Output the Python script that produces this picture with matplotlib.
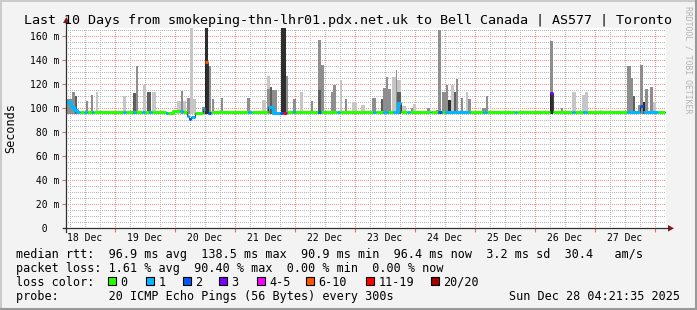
import matplotlib
matplotlib.use("Agg")
import matplotlib.pyplot as plt
from matplotlib.lines import Line2D
from matplotlib.patches import Rectangle, Polygon

W, H = 697, 310
MONO = "DejaVu Sans Mono"

# graph covers 240 h, starting Thu Dec 18 04:21:35
start_hour = 4 + 21 / 60 + 35 / 3600
graph_hours = 240
day_labels = ["18 Dec", "19 Dec", "20 Dec", "21 Dec", "22 Dec",
              "23 Dec", "24 Dec", "25 Dec", "26 Dec", "27 Dec"]
y_ticks = [0, 20, 40, 60, 80, 100, 120, 140, 160]

# median rtt (ms), piecewise: segment start (hours since graph start), value, loss bucket
median_start_h = [
    0.0, 2.0, 3.2, 4.4, 5.6, 7.2, 8.4, 10.4, 11.2,
    22.8, 24.0, 26.8, 28.0, 30.4, 31.6, 33.2, 34.4, 40.0, 40.8, 42.8,
    45.6, 46.8, 48.4, 49.2, 50.0, 51.6, 54.8, 55.6, 56.8, 58.0, 70.4,
    72.8, 74.4, 80.8, 82.8, 85.6, 86.8, 88.0, 88.4, 90.8, 91.6,
    100.8, 102.0, 108.4, 109.6, 122.8, 124.0, 126.8, 128.8, 130.8, 132.8, 134.0, 136.4, 137.6,
    145.6, 146.0, 148.8, 150.4, 151.6, 161.6, 166.8, 168.4, 179.6, 180.4,
    193.6, 194.8, 202.4, 203.6, 206.8, 208.4, 224.4, 229.6, 230.8, 236.8,
]
median_ms = [
    105.5, 101.0, 98.5, 96.9, 96.9, 96.9, 96.9, 96.9, 96.9,
    96.9, 96.9, 96.9, 96.9, 96.9, 96.9, 96.9, 96.9, 96.2, 96.2, 97.8,
    97.8, 97.3, 93.5, 90.9, 93.0, 96.2, 99.5, 138.5, 96.2, 96.9, 97.3,
    96.9, 96.9, 101.5, 96.5, 96.5, 96.5, 96.5, 96.9, 98.2, 96.9,
    96.9, 96.9, 96.9, 96.9, 96.9, 96.9, 96.9, 96.9, 96.9, 104.5, 96.9, 96.9, 96.9,
    96.9, 96.9, 96.9, 96.9, 96.9, 96.9, 96.9, 96.9, 96.9, 96.9,
    113.0, 96.9, 96.9, 96.9, 96.9, 96.9, 96.9, 102.0, 96.9, 96.9,
]
median_loss = [
    1, 1, 1, 1, 0, 1, 0, 1, 0,
    1, 0, 1, 0, 1, 0, 1, 0, 1, 0, 0,
    1, 0, 1, 2, 1, 0, 1, 5, 2, 0, 0,
    1, 0, 1, 1, 2, 6, 3, 0, 1, 0,
    2, 0, 1, 0, 1, 0, 1, 0, 1, 1, 0, 1, 0,
    1, 0, 2, 0, 1, 0, 1, 0, 1, 0,
    3, 0, 1, 0, 1, 0, 1, 2, 1, 0,
]

# smoke columns: (start h, end h, top ms), grouped by smoke density
smoke_light = [
    (12.0, 12.8, 114), (22.8, 24.0, 110.5), (30.8, 32.0, 119.7), (34.4, 36.0, 114),
    (44.4, 46.0, 106), (46.8, 48.0, 106), (49.6, 50.8, 167), (50.8, 52.0, 108),
    (78.4, 80.0, 107), (80.4, 81.6, 127), (93.6, 94.8, 114), (109.6, 110.4, 123.8),
    (114.4, 116.4, 105), (118.0, 119.6, 103), (130.4, 132.0, 126.4), (132.4, 134.0, 124),
    (134.4, 136.0, 102), (138.8, 140.0, 103.5), (154.0, 155.2, 119.7), (160.0, 160.8, 114),
    (202.4, 204.0, 114), (206.4, 207.6, 111), (207.6, 208.8, 114), (213.6, 214.4, 99),
    (234.8, 236.0, 105),
]
smoke_mid = [
    (0.4, 2.4, 108), (2.4, 3.6, 113.6), (8.0, 8.8, 106), (10.0, 10.8, 111),
    (28.0, 28.8, 135.5), (46.0, 46.8, 114.5), (48.4, 49.6, 108.5), (54.4, 55.6, 101),
    (56.8, 58.0, 135.5), (58.4, 59.2, 108), (62.0, 62.8, 108.6), (72.4, 73.6, 109),
    (80.4, 81.6, 116), (82.4, 84.4, 115), (88.0, 88.8, 127), (90.8, 92.0, 108),
    (98.0, 98.8, 106), (100.8, 102.0, 157), (102.0, 103.2, 136), (106.0, 106.8, 114),
    (106.8, 108.0, 119.7), (111.6, 112.4, 108), (122.4, 124.0, 108.6), (126.8, 128.0, 117),
    (128.0, 128.8, 126), (128.8, 130.0, 116.5), (132.0, 132.4, 132), (138.0, 138.8, 100),
    (144.4, 145.6, 100), (148.0, 148.8, 98.5), (148.8, 150.0, 165), (150.4, 152.0, 114),
    (152.0, 152.8, 119.7), (156.0, 156.8, 124.4), (158.0, 158.8, 109), (160.8, 162.0, 108),
    (166.4, 168.0, 100), (168.0, 168.8, 110.5), (193.6, 194.8, 156), (198.0, 198.8, 100),
    (224.4, 226.0, 135.5), (226.0, 226.8, 125), (228.8, 229.6, 103), (229.6, 230.8, 136),
    (231.6, 232.8, 116.5), (233.6, 234.8, 117.7),
]
smoke_dark = [
    (3.6, 4.4, 110.5), (26.8, 28.0, 112.5), (32.4, 34.0, 114), (81.6, 82.4, 118),
    (100.8, 102.0, 115), (126.0, 126.8, 108), (132.4, 134.0, 114), (155.2, 156.0, 114),
    (226.8, 227.6, 110.5),
]
smoke_black = [
    (55.6, 56.8, 167), (86.0, 88.0, 167), (152.8, 154.0, 107), (193.6, 194.8, 113),
    (230.8, 231.6, 105),
]

loss_labels = ["0", "1", "2", "3", "4-5", "6-10", "11-19", "20/20"]
loss_colors = ["#26ff00", "#00b8ff", "#0059ff", "#7e00ff", "#ff00ff", "#ff5500", "#ff0000", "#a10000"]

title = "Last 10 Days from smokeping-thn-lhr01.pdx.net.uk to Bell Canada | AS577 | Toronto"
rtt_line = "median rtt:  96.9 ms avg  138.5 ms max  90.9 ms min  96.4 ms now  3.2 ms sd  30.4   am/s"
loss_line = "packet loss: 1.61 % avg  90.40 % max  0.00 % min  0.00 % now"
probe_line = "probe:       20 ICMP Echo Pings (56 Bytes) every 300s"
stamp = "Sun Dec 28 04:21:35 2025"


def fx(x):
    return x / W


def fy(y):
    return 1 - y / H


fig = plt.figure(figsize=(W / 100, H / 100), dpi=100)
fig.patch.set_facecolor("#f3f3f3")

ax = fig.add_axes([fx(66), fy(228.3), 600 / W, 200.3 / H])
ax.set_facecolor("white")
ax.set_xlim(0, graph_hours)
ax.set_ylim(0, 167)
for s in ax.spines.values():
    s.set_visible(False)
ax.set_xticks([])
ax.set_yticks([])

# grid, 1px dots like rrdtool
dots = (0, (1, 2))
minor_col, major_col = "#b8b8b8", "#ff8c8c"
first_midnight = 24 - start_hour
for v in range(5, 167, 5):
    if v % 20:
        ax.axhline(v, color=minor_col, lw=0.72, ls=dots, antialiased=False, zorder=0)
for v in y_ticks[1:]:
    ax.axhline(v, color=major_col, lw=0.72, ls=dots, antialiased=False, zorder=0)
h = first_midnight - 18
while h < graph_hours:
    if h > 0:
        is_mid = abs((h - first_midnight) % 24) < 1e-6
        ax.axvline(h, color=major_col if is_mid else minor_col, lw=0.72, ls=dots,
                   antialiased=False, zorder=0)
    h += 6

# smoke
for group, shade in [(smoke_light, "#c6c6c6"), (smoke_mid, "#8e8e8e"),
                     (smoke_dark, "#5e5e5e"), (smoke_black, "#2e2e2e")]:
    ax.bar([g[0] for g in group], [g[2] - 95.5 for g in group],
           width=[g[1] - g[0] for g in group], bottom=95.5, align="edge",
           color=shade, linewidth=0, zorder=2)

# median line
median_end_h = median_start_h[1:] + [graph_hours - 0.4]
xs, ys = [], []
for a, b, v in zip(median_start_h, median_end_h, median_ms):
    xs += [a, b]
    ys += [v, v]
ax.plot(xs, ys, color="#202020", lw=0.6, zorder=3)
i = 0
while i < len(median_start_h):
    j = i
    while j + 1 < len(median_start_h) and median_loss[j + 1] == median_loss[i]:
        j += 1
    rx, ry = [], []
    for k in range(i, j + 1):
        rx += [median_start_h[k], median_end_h[k]]
        ry += [median_ms[k], median_ms[k]]
    ax.plot(rx, ry, color=loss_colors[median_loss[i]], lw=2.2,
            solid_capstyle="butt", zorder=4)
    i = j + 1

# ticks and labels
for k, lab in enumerate(day_labels):
    ax.text(12 - start_hour + 24 * k, -0.062, lab, transform=ax.get_xaxis_transform(),
            ha="center", va="baseline", fontsize=7, family=MONO)
mids = [first_midnight + 24 * k for k in range(10)]
ax.vlines(mids, -0.016, 0, transform=ax.get_xaxis_transform(), color="#e07070",
          lw=0.8, clip_on=False)
ax.hlines(y_ticks, -0.006, 0, transform=ax.get_yaxis_transform(), color="#e07070",
          lw=0.8, clip_on=False)
for v in y_ticks:
    lab = f"{v:>3} m" if v else "  0"
    ax.text(-36 / 600, v, lab, transform=ax.get_yaxis_transform(),
            ha="left", va="center_baseline", fontsize=7, family=MONO)

# axes with arrows
axis_col = "#303030"
arrow_col = "#8b1a1a"
fig.add_artist(Line2D([fx(63), fx(669)], [fy(228.3)] * 2, color=axis_col, lw=0.9))
fig.add_artist(Line2D([fx(66.3)] * 2, [fy(232), fy(22)], color=axis_col, lw=0.9))
fig.add_artist(Polygon([(fx(668), fy(225)), (fx(674), fy(228.3)), (fx(668), fy(231.6))],
                       closed=True, color=arrow_col, lw=0))
fig.add_artist(Polygon([(fx(63), fy(23)), (fx(69.6), fy(23)), (fx(66.3), fy(17))],
                       closed=True, color=arrow_col, lw=0))

# texts
fig.text(fx(348), fy(24), title, ha="center", va="baseline", fontsize=9.6, family=MONO)
fig.text(fx(11), fy(128), "Seconds", rotation=90, ha="center", va="center",
         fontsize=8.5, family=MONO)
fig.text(fx(688), fy(60), "RRDTOOL / TOBI OETIKER", rotation=270, ha="center",
         va="center", fontsize=5.9, family=MONO, color="#b4b4b4")
fig.text(fx(16), fy(257.7), rtt_line, ha="left", va="baseline", fontsize=8.5, family=MONO)
fig.text(fx(16), fy(271.7), loss_line, ha="left", va="baseline", fontsize=8.5, family=MONO)
fig.text(fx(16), fy(285.7), "loss color:", ha="left", va="baseline", fontsize=8.5, family=MONO)
fig.text(fx(16), fy(299.7), probe_line, ha="left", va="baseline", fontsize=8.5, family=MONO)
fig.text(fx(680), fy(299.7), stamp, ha="right", va="baseline", fontsize=8.5, family=MONO)

sq_x = [108, 146, 183, 219, 257, 306, 366, 431]
for x, lab, col in zip(sq_x, loss_labels, loss_colors):
    fig.add_artist(Rectangle((fx(x), fy(285)), 7.5 / W, 7.7 / H, transform=fig.transFigure,
                             facecolor=col, edgecolor="black", lw=0.8))
    fig.text(fx(x + 12.5), fy(285.7), lab, ha="left", va="baseline", fontsize=8.5, family=MONO)

# 3d-ish frame
fig.add_artist(Line2D([0, 1], [fy(1)] * 2, color="#cbcbcb", lw=1.5))
fig.add_artist(Line2D([fx(1)] * 2, [0, 1], color="#cbcbcb", lw=1.5))
fig.add_artist(Line2D([0, 1], [fy(309)] * 2, color="#999999", lw=1.5))
fig.add_artist(Line2D([fx(696)] * 2, [0, 1], color="#999999", lw=1.5))

fig.savefig("out.png", dpi=100, facecolor=fig.get_facecolor())
